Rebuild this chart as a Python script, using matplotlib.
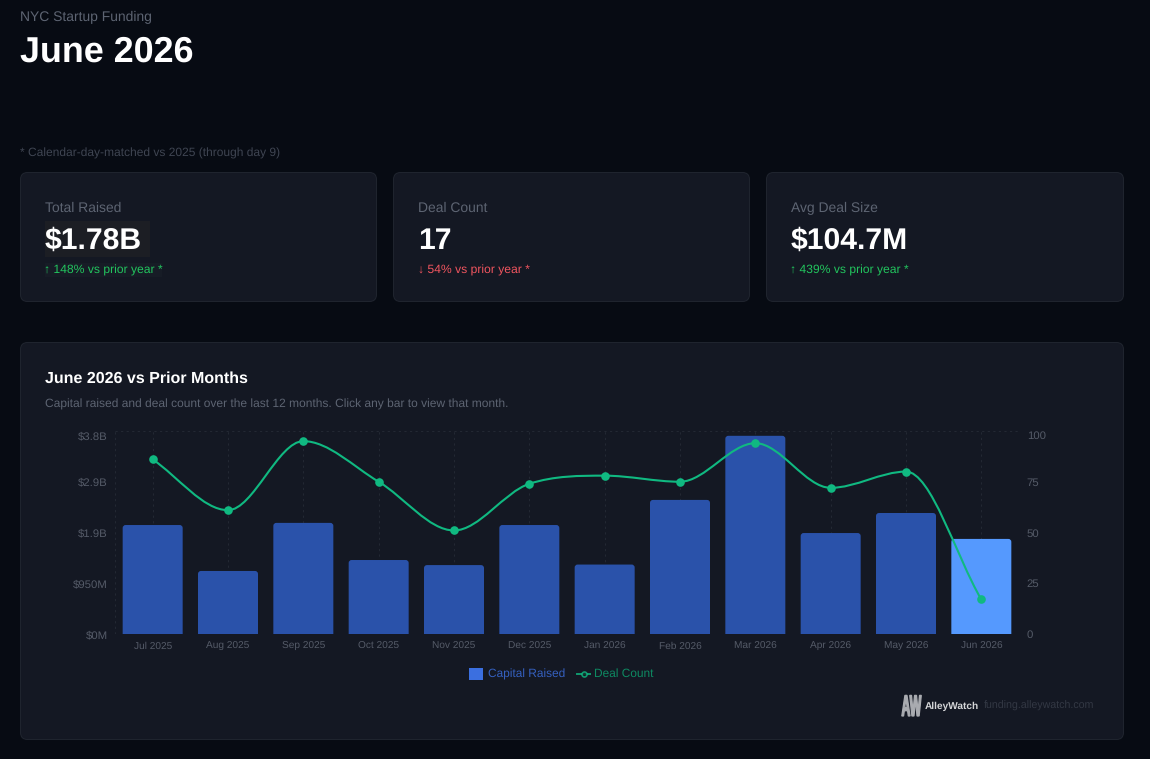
import matplotlib
matplotlib.use('Agg')
import matplotlib.pyplot as plt
from matplotlib.font_manager import FontProperties
from matplotlib.patches import FancyBboxPatch, PathPatch, Rectangle
from matplotlib.path import Path
from matplotlib.textpath import TextPath
from matplotlib.transforms import Affine2D, IdentityTransform
import numpy as np

plt.rcParams['font.family'] = ['Liberation Sans', 'DejaVu Sans']
plt.rcParams['text.hinting'] = 'no_hinting'

months = ['Jul 2025', 'Aug 2025', 'Sep 2025', 'Oct 2025', 'Nov 2025', 'Dec 2025',
          'Jan 2026', 'Feb 2026', 'Mar 2026', 'Apr 2026', 'May 2026', 'Jun 2026']
capital = [2.04, 1.18, 2.08, 1.385, 1.29, 2.04, 1.30, 2.51, 3.71, 1.89, 2.265, 1.78]
deals = [86, 61, 95, 75, 51, 74, 78, 75, 94, 72, 80, 17]

cap_ticks = [0, 0.95, 1.9, 2.85, 3.8]
cap_labels = ['$0M', '$950M', '$1.9B', '$2.9B', '$3.8B']
deal_ticks = [0, 25, 50, 75, 100]

card_titles = ['Total Raised', 'Deal Count', 'Avg Deal Size']
card_values = ['$1.78B', '17', '$104.7M']
card_changes = ['↑ 148% vs prior year *', '↓ 54% vs prior year *', '↑ 439% vs prior year *']
card_colors = ['#22c55e', '#f0555f', '#22c55e']

W, H = 1150, 759
BG = '#070b13'
CARD = '#141823'
EDGE = '#20252f'
GREY = '#5d6472'
TICK = '#555b68'

fig = plt.figure(figsize=(W / 100, H / 100), dpi=100, facecolor=BG)

# page layer in pixel coords
page = fig.add_axes([0, 0, 1, 1])
page.set_xlim(0, W)
page.set_ylim(H, 0)
page.axis('off')


def card(x, y, w, h):
    page.add_patch(FancyBboxPatch((x + 7.5, y + 7.5), w - 15, h - 15,
                                  boxstyle='round,pad=7,rounding_size=7',
                                  fc=CARD, ec=EDGE, lw=0.7))


page.text(20, 17.5, 'NYC Startup Funding', color=GREY, fontsize=10, va='center')
page.text(20, 52.5, 'June 2026', color='white', fontsize=25.8, fontweight='bold', va='center')
page.text(20, 153, '* Calendar-day-matched vs 2025 (through day 9)', color='#3f4552',
          fontsize=8.63, va='center')

card_x = [20, 393, 766]
card_w = [357, 357, 358]
for x, w, t, v, c, col in zip(card_x, card_w, card_titles, card_values, card_changes, card_colors):
    card(x, 172, w, 130)
    page.text(x + 25, 208.5, t, color=GREY, fontsize=10, va='center')
    page.text(x + 25, 241, v, color='white', fontsize=21.7, fontweight='bold', va='center')
    page.text(x + 24.5, 270, c, color=col, fontsize=8.7, va='center')

# selection-like highlight behind the first card's texts
page.add_patch(Rectangle((44.5, 221), 105.5, 36, fc='#1c1e24', ec='none', zorder=1.5))
page.add_patch(Rectangle((44.5, 263), 117.5, 14, fc='#171c26', ec='none', zorder=1.5))

card(20, 342, 1104, 398)
page.text(45, 379, 'June 2026 vs Prior Months', color='white', fontsize=11.55,
          fontweight='bold', va='center')
page.text(45, 404, 'Capital raised and deal count over the last 12 months. Click any bar to view that month.',
          color=GREY, fontsize=8.63, va='center')

# legend and footer
page.add_patch(Rectangle((469, 668), 14, 12, fc='#3b6fe0', ec='none'))
page.text(487.5, 674, 'Capital Raised', color='#3560c0', fontsize=8.6, va='center')
page.plot([577, 590], [673.5, 673.5], color='#10b981', lw=1.4, alpha=.8)
page.plot([583.5], [673.5], 'o', ms=3.6, mfc=CARD, mec='#10b981', mew=1.2, alpha=.8)
page.text(593.5, 674, 'Deal Count', color='#0e8a62', fontsize=8.6, va='center')

# logo mark, squeezed the way the reference's is
logo = TextPath((0, 0), 'AW', size=30, prop=FontProperties(family='Liberation Sans', weight='bold'))
page.add_patch(PathPatch(logo, fc='#a9abb0', ec='#a9abb0', lw=0.9,
                         transform=Affine2D().scale(0.41, -1).translate(901.5, 716) + page.transData))
page.text(925, 706, 'AlleyWatch', color='#d5d6d8', fontsize=7.3, fontweight='bold', va='center')
page.text(984, 706, 'funding.alleywatch.com', color='#333844', fontsize=7.7, va='center')

# chart
L, R, T, B = 115, 1019, 431, 634
ax = fig.add_axes([L / W, 1 - B / H, (R - L) / W, (B - T) / H])
ax.patch.set_alpha(0)
x = np.arange(len(months))
ax.set_xlim(-0.5, len(months) - 0.5)
ax.set_ylim(0, cap_ticks[-1])

grid = dict(color='#232833', lw=0.8, dashes=(2, 3), zorder=0)
ax.axhline(cap_ticks[-1], clip_on=False, **grid)
for i in x:
    ax.axvline(i, **grid)
ax.axvline(-0.5, **grid)
ax.axvline(len(months) - 0.5, **grid)

bar_w = 60 / ((R - L) / len(months))
for i, v in zip(x, capital):
    col = '#5599fe' if i == len(months) - 1 else '#2a52aa'
    px = bar_w / 2
    r_x = 3 / ((R - L) / len(months))
    r_y = 3 * cap_ticks[-1] / (B - T)
    verts = [(i - px, 0), (i - px, v - r_y), (i - px, v), (i - px + r_x, v),
             (i + px - r_x, v), (i + px, v), (i + px, v - r_y), (i + px, 0), (i - px, 0)]
    codes = [Path.MOVETO, Path.LINETO, Path.CURVE3, Path.CURVE3,
             Path.LINETO, Path.CURVE3, Path.CURVE3, Path.LINETO, Path.CLOSEPOLY]
    ax.add_patch(PathPatch(Path(verts, codes), fc=col, ec='none', zorder=2))

ax.set_xticks(x)
ax.set_xticklabels(months, fontsize=7.3, color=TICK)
ax.set_yticks(cap_ticks)
ax.set_yticklabels(cap_labels, fontsize=8.2, color=TICK)
ax.get_yticklabels()[-1].set_verticalalignment('top')
ax.tick_params(length=0)
ax.tick_params(axis='x', pad=5.2)
ax.tick_params(axis='y', pad=5)
for s in ax.spines.values():
    s.set_visible(False)

ax2 = ax.twinx()
ax2.set_ylim(0, deal_ticks[-1])
ax2.patch.set_alpha(0)
ax2.set_yticks(deal_ticks)
ax2.set_yticklabels([str(t) for t in deal_ticks], fontsize=8.2, color=TICK)
ax2.get_yticklabels()[-1].set_verticalalignment('top')
ax2.tick_params(length=0, pad=5.5)
for s in ax2.spines.values():
    s.set_visible(False)

# monotone cubic through the deal counts, done in pixel space
pts = ax2.transData.transform(np.column_stack([x, deals]))
dx = np.diff(pts[:, 0])
slope = np.diff(pts[:, 1]) / dx
m = np.zeros(len(pts))
m[0] = slope[0]
m[-1] = slope[-1]
for i in range(1, len(pts) - 1):
    if slope[i - 1] * slope[i] > 0:
        m[i] = (slope[i - 1] + slope[i]) / 2
for i in range(len(slope)):
    a, b = m[i] / slope[i], m[i + 1] / slope[i]
    mag = np.hypot(a, b)
    if mag > 3:
        m[i] = 3 / mag * a * slope[i]
        m[i + 1] = 3 / mag * b * slope[i]
verts = [pts[0]]
codes = [Path.MOVETO]
for i in range(len(pts) - 1):
    h = dx[i] / 3
    verts += [pts[i] + [h, h * m[i]], pts[i + 1] - [h, h * m[i + 1]], pts[i + 1]]
    codes += [Path.CURVE4] * 3
ax2.add_patch(PathPatch(Path(verts, codes), fc='none', ec='#10b981', lw=1.5,
                        transform=IdentityTransform(), zorder=3))
ax2.plot(x, deals, 'o', ms=6.2, color='#10b981', mec='none', zorder=4)

fig.savefig('out.png', dpi=100, facecolor=BG)
plt.close('all')
